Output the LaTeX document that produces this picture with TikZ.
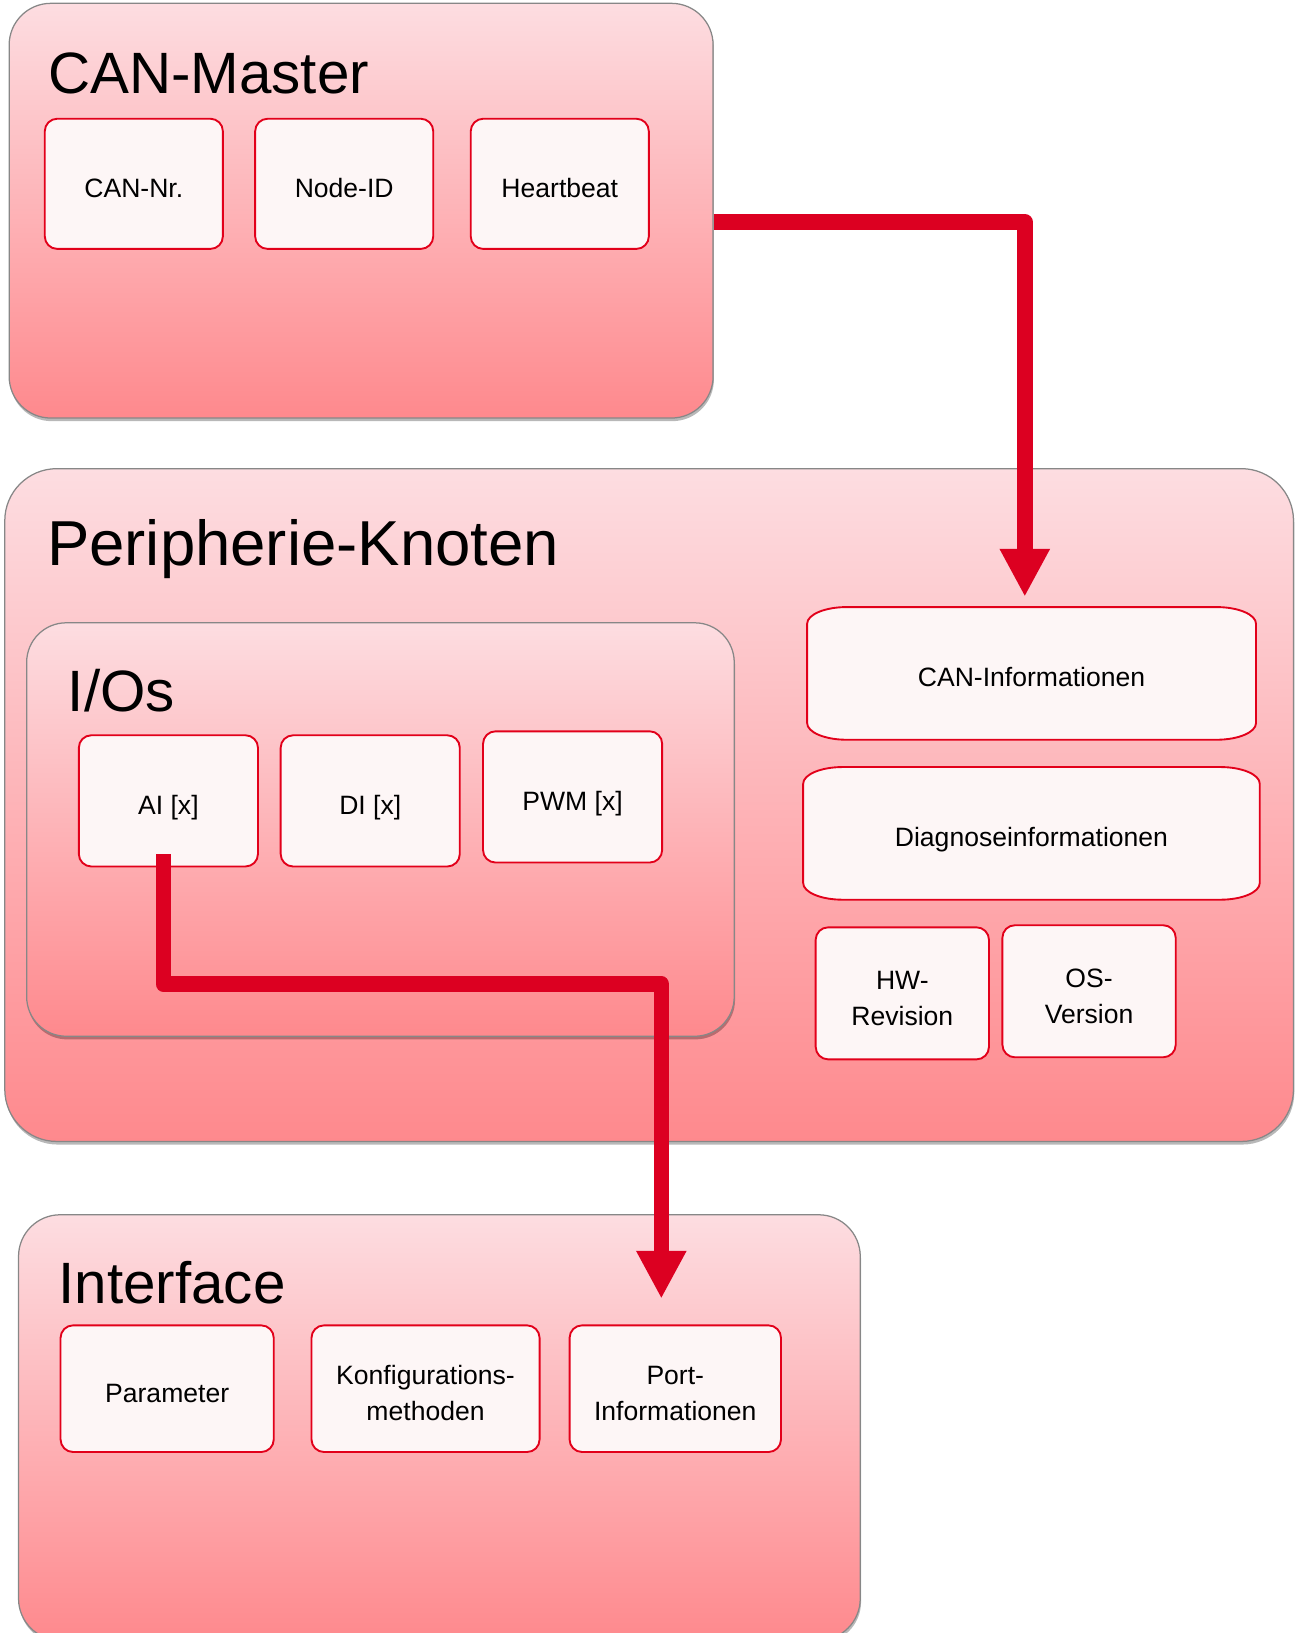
\documentclass[tikz,border=0pt]{standalone}
\usepackage{fontspec}
\setmainfont{Liberation Sans}
\usetikzlibrary{arrows.meta,shadows}
\definecolor{ctop}{RGB}{253,221,225}
\definecolor{cbot}{RGB}{254,137,141}
\definecolor{cedge}{RGB}{135,135,135}
\definecolor{cred}{RGB}{226,0,26}
\definecolor{carrow}{RGB}{220,0,33}
\definecolor{cfill}{RGB}{253,246,246}
\tikzset{
  outerbox/.style={draw=cedge, line width=1.2pt, top color=ctop, bottom color=cbot,
    drop shadow={shadow xshift=0.8pt, shadow yshift=-3pt, opacity=0.28, fill=black},
    inner sep=0pt},
  titletext/.style={anchor=base west, inner sep=0pt, font=\fontsize{56}{60}\selectfont},
  itembox/.style={draw=cred, line width=1.8pt, fill=cfill, rounded corners=12pt,
    align=center, font=\fontsize{25.5}{35}\selectfont, inner sep=0pt,
    text height=26pt, text depth=0pt},
  twoline/.style={text height=62pt, text depth=0pt},
  placebox/.style={inner sep=0pt},
  itemtext/.style={align=center, font=\fontsize{25.5}{35}\selectfont, inner sep=0pt,
    text height=26pt, text depth=0pt},
  ellipedge/.style={draw=cred, line width=1.8pt, fill=cfill},
  flow/.style={draw=carrow, line width=15pt, line join=round,
    -{Triangle[width=45pt,length=46pt]}},
}
\begin{document}
\begin{tikzpicture}[x=1pt,y=-1pt]
\useasboundingbox (0,0) rectangle (1247,1568);
\begin{scope}
\clip (0,0) rectangle (1247,1568);

% CAN-Master
\node[outerbox, rounded corners=40pt, minimum width=675.9pt, minimum height=398.2pt] (canmaster) at (346.75,202.3) {};
\node[titletext] (canmastertitle) at (46,90) {CAN-Master};
\node[itembox, minimum width=171pt, minimum height=125pt] (cannr) at (128.5,176.5) {CAN-Nr.};
\node[itembox, minimum width=171pt, minimum height=125pt] (nodeid) at (330.5,176.5) {Node-ID};
\node[itembox, minimum width=171pt, minimum height=125pt] (heartbeat) at (537.5,176.5) {Heartbeat};

% Peripherie-Knoten
\node[outerbox, rounded corners=50pt, minimum width=1237.4pt, minimum height=646pt] (periph) at (623.3,773) {};
\node[titletext, font=\fontsize{61}{65}\selectfont] (periphtitle) at (45,543) {Peripherie-Knoten};

% I/Os
\node[outerbox, rounded corners=38pt, minimum width=679.4pt, minimum height=397pt] (ios) at (365.3,796.5) {};
\node[titletext] (iostitle) at (65,683) {I/Os};
\node[itembox, minimum width=172pt, minimum height=126pt] (ai) at (161.7,769) {AI [x]};
\node[itembox, minimum width=172pt, minimum height=126pt] (di) at (355.5,769) {DI [x]};
\node[itembox, minimum width=172pt, minimum height=126pt] (pwm) at (549.8,765.2) {PWM [x]};

% CAN-Informationen
\node[placebox, minimum width=430.6pt, minimum height=127pt] (ci) at (990.5,646.6) {};
\path[ellipedge] ([xshift=38pt]ci.north west) -- ([xshift=-38pt]ci.north east)
  arc[start angle=90,end angle=0,x radius=38pt,y radius=16pt]
  -- ([yshift=16pt]ci.south east)
  arc[start angle=0,end angle=-90,x radius=38pt,y radius=16pt]
  -- ([xshift=38pt]ci.south west)
  arc[start angle=270,end angle=180,x radius=38pt,y radius=16pt]
  -- ([yshift=-16pt]ci.north west)
  arc[start angle=180,end angle=90,x radius=38pt,y radius=16pt] -- cycle;
\node[itemtext] (citext) at (ci.center) {CAN-Informationen};

% Diagnoseinformationen
\node[placebox, minimum width=438pt, minimum height=127pt] (diag) at (990.4,800.2) {};
\path[ellipedge] ([xshift=38pt]diag.north west) -- ([xshift=-38pt]diag.north east)
  arc[start angle=90,end angle=0,x radius=38pt,y radius=16pt]
  -- ([yshift=16pt]diag.south east)
  arc[start angle=0,end angle=-90,x radius=38pt,y radius=16pt]
  -- ([xshift=38pt]diag.south west)
  arc[start angle=270,end angle=180,x radius=38pt,y radius=16pt]
  -- ([yshift=-16pt]diag.north west)
  arc[start angle=180,end angle=90,x radius=38pt,y radius=16pt] -- cycle;
\node[itemtext] (diagtext) at (diag.center) {Diagnoseinformationen};

\node[itembox, twoline, minimum width=166.4pt, minimum height=126.8pt] (hw) at (866.4,953.8) {HW-\\Revision};
\node[itembox, twoline, minimum width=166.4pt, minimum height=126.8pt] (os) at (1045.7,951.8) {OS-\\Version};

% Interface
\node[outerbox, rounded corners=40pt, minimum width=808.2pt, minimum height=408.6pt] (iface) at (421.9,1370.7) {};
\node[titletext] (ifacetitle) at (56,1252) {Interface};
\node[itembox, minimum width=204.7pt, minimum height=121.6pt] (param) at (160.5,1333.4) {Parameter};
\node[itembox, twoline, minimum width=219pt, minimum height=121.6pt] (konf) at (408.6,1333.4) {Konfigurations-\\methoden};
\node[itembox, twoline, minimum width=203pt, minimum height=121.6pt] (port) at (648.4,1333.4) {Port-\\Informationen};

% connectors
\coordinate (a1s) at (canmaster.east |- 0,213);
\coordinate (a1e) at (984,573);
\draw[flow] (a1s) -| (a1e);

\coordinate (a2s) at (157,820);
\coordinate (a2k) at (635,945);
\coordinate (a2e) at (635,1247);
\draw[flow] (a2s) |- (a2k) -- (a2e);
\end{scope}
\end{tikzpicture}
\end{document}
